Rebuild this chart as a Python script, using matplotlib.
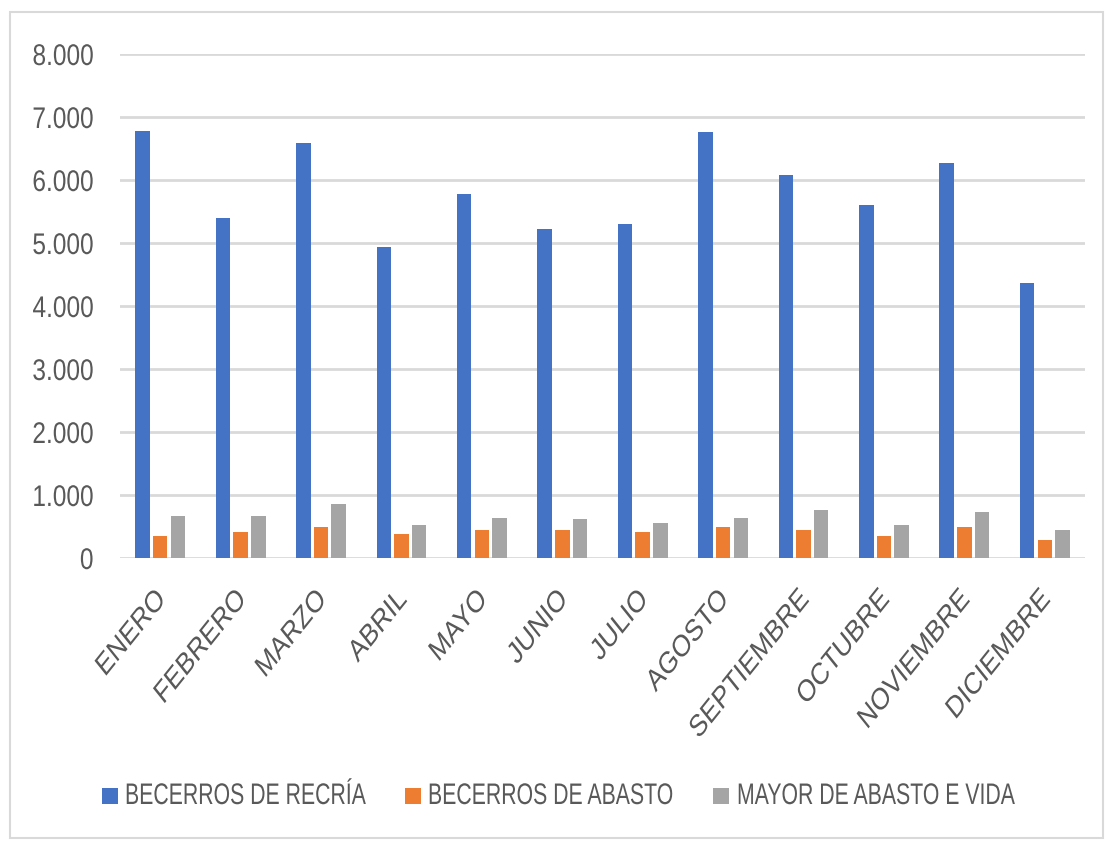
import matplotlib
matplotlib.use("Agg")
import matplotlib.pyplot as plt
import numpy as np
from matplotlib.patches import Rectangle
from matplotlib.ticker import FuncFormatter
from matplotlib.patheffects import AbstractPathEffect
from matplotlib.transforms import Affine2D, ScaledTranslation

months = ["ENERO", "FEBRERO", "MARZO", "ABRIL", "MAYO", "JUNIO", "JULIO",
          "AGOSTO", "SEPTIEMBRE", "OCTUBRE", "NOVIEMBRE", "DICIEMBRE"]
recria = [6785, 5400, 6585, 4940, 5785, 5220, 5305, 6765, 6080, 5605, 6265, 4365]
abasto = [353, 410, 495, 379, 442, 442, 410, 495, 437, 347, 495, 289]
mayor = [674, 674, 853, 526, 642, 616, 553, 642, 763, 526, 732, 437]
series_names = ["BECERROS DE RECRÍA", "BECERROS DE ABASTO", "MAYOR DE ABASTO E VIDA"]
colors = ["#4472C4", "#ED7D31", "#A5A5A5"]
yticks = [0, 1000, 2000, 3000, 4000, 5000, 6000, 7000, 8000]

plt.rcParams['font.family'] = ['Liberation Sans', 'DejaVu Sans']
txt = "#595959"


class Squeeze(AbstractPathEffect):
    """Narrow text glyphs (like a condensed face) while keeping real text."""
    def __init__(self, gsx=1.0, gsy=1.0, c=1.0, anchor='right'):
        super().__init__((0, 0))
        self.gsx, self.gsy, self.c, self.anchor = gsx, gsy, c, anchor

    def draw_path(self, renderer, gc, tpath, affine, rgbFace=None):
        ext = tpath.get_extents()
        if self.anchor == 'right':
            gx, gy = ext.x1, ext.y1
        else:
            gx, gy = ext.x0, 0.0
        pre = Affine2D().translate(-gx, -gy).scale(self.gsx, self.gsy).translate(gx, gy)
        full = pre + affine
        dx, dy = full.transform((gx, gy))
        post = Affine2D().translate(-dx, 0).scale(self.c, 1).translate(dx, 0)
        renderer.draw_path(gc, tpath, full + post, rgbFace)


fig = plt.figure(figsize=(11.05, 8.43), dpi=100)
ax = fig.add_axes([120/1105, 1-558/843, (1085-120)/1105, (558-54)/843])

x = np.arange(len(months))
w = 0.18
step = 0.22
for i, (vals, name, c) in enumerate(zip([recria, abasto, mayor], series_names, colors)):
    ax.bar(x + (i-1)*step, vals, width=w, color=c, label=name, zorder=3)

ax.set_xlim(-0.5, len(months)-0.5)
ax.set_ylim(0, 8000)
ax.set_yticks(yticks)
ax.yaxis.set_major_formatter(FuncFormatter(lambda v, p: f"{int(v):,}".replace(",", ".")))
ax.grid(axis='y', color="#D9D9D9", linewidth=2, zorder=0)
for s in ax.spines.values():
    s.set_visible(False)
ax.tick_params(axis='y', length=0, pad=19, labelsize=21.5, labelcolor=txt)
ax.set_xticks(x)
ax.set_xticklabels(months, rotation=45, ha='right', va='top', rotation_mode='anchor')
ax.tick_params(axis='x', length=0, pad=19, labelsize=22, labelcolor=txt)

fig.canvas.draw()
for lbl in ax.get_yticklabels():
    lbl.set_path_effects([Squeeze(gsx=0.82, anchor='right')])
shift = ScaledTranslation(-5/72, 0, fig.dpi_scale_trans)
for lbl in ax.get_xticklabels():
    lbl.set_path_effects([Squeeze(c=0.8, anchor='right')])
    lbl.set_transform(lbl.get_transform() + shift)

# legend (manual, bottom)
leg_marker_x = [102, 405, 713]
leg_text_x = [125, 428, 737]
leg_fs = 15.3
for name, c, mx, tx in zip(series_names, colors, leg_marker_x, leg_text_x):
    fig.patches.append(Rectangle((mx/1105, 1-804/843), 16/1105, 16/843,
                                 transform=fig.transFigure, facecolor=c, edgecolor='none'))
    t = fig.text(tx/1105, 1-804/843, name, fontsize=leg_fs, color=txt,
                 ha='left', va='baseline')
    t.set_path_effects([Squeeze(gsy=1.40, anchor='left')])

fig.patches.append(Rectangle((10/1105, 1-838/843), 1093/1105, 826/843, transform=fig.transFigure,
                             fill=False, edgecolor="#D9D9D9", linewidth=1.5))

fig.savefig("out.png", dpi=100)
